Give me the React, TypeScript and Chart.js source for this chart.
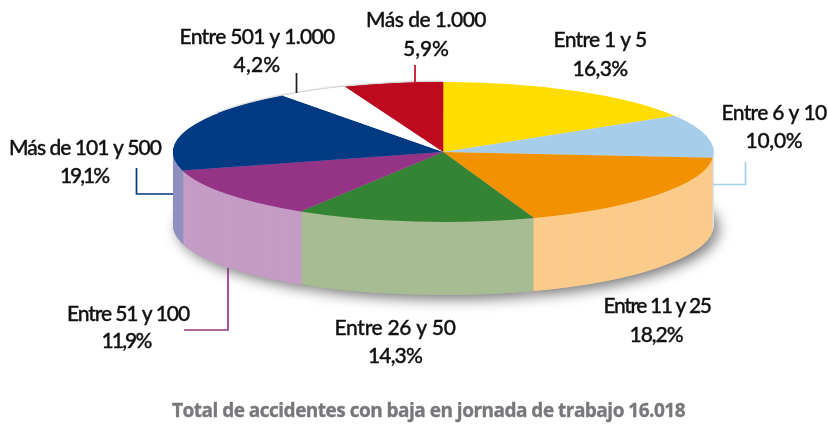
import React, { useEffect, useRef } from "react";
import { Chart, registerables } from "chart.js";

Chart.register(...registerables);

const categories = ["Entre 1 y 5", "Entre 6 y 10", "Entre 11 y 25", "Entre 26 y 50", "Entre 51 y 100", "Más de 101 y 500", "Entre 501 y 1.000", "Más de 1.000"];
const shares = [16.3, 10.0, 18.2, 14.3, 11.9, 19.1, 4.2, 5.9];
const topColors = ["#FFDD00", "#A6CEEA", "#F39200", "#358435", "#953486", "#003A82", "#FFFFFF", "#BE0A1E"];
const sideColors = ["#FFEE88", "#D3E7F5", "#FBCB8B", "#A8BC93", "#C49CC5", "#8F90BF", "#FFFFFF", "#E08A90"];
const totalLabel = "Total de accidentes con baja en jornada de trabajo 16.018";

// label anchors: centre x, first baseline, second baseline, second-line centre x, line widths
const labelLayout = [
  [600, 47, 76, 600, 93, 55],
  [774, 120, 148, 774, 105, 57],
  [657, 313, 342, 656, 107, 53],
  [395, 335, 363, 395, 121, 54],
  [128, 321, 348, 126, 122, 49],
  [85, 155, 183, 84, 152, 48],
  [257, 44, 72, 257, 155, 47],
  [426, 27, 56, 426, 120, 46],
];
// leader lines, one polyline for each label
const leaders: { color: string; points: number[][] }[] = [
  { color: "#BE0A1E", points: [[415, 65], [415, 82]] },
  { color: "#1D1D1B", points: [[296.5, 73], [296.5, 93]] },
  { color: "#003A82", points: [[136.5, 168], [136.5, 194], [173, 194]] },
  { color: "#A6CEEA", points: [[745.5, 162], [745.5, 184.5], [713, 184.5]] },
  { color: "#953486", points: [[228, 268], [228, 330], [184, 330]] },
];

const CX = 443.3;
const CY = 152;
const RX = 270.5;
const RY = 70;
const DEPTH = 73;

const pie3d = {
  id: "pie3d",
  beforeDatasetsDraw(chart: any) {
    const ctx = chart.ctx;
    const arcs = chart.getDatasetMeta(0).data;
    const first = arcs[0];
    const r = first.outerRadius;
    const paint = (dy: number, colors: string[] | null) => {
      ctx.save();
      ctx.translate(CX, CY + dy);
      ctx.scale(RX / r, RY / r);
      ctx.translate(-first.x, -first.y);
      arcs.forEach((arc: any, i: number) => {
        const saved = arc.options;
        if (colors) {
          const o = Object.create(saved);
          o.backgroundColor = colors[i];
          arc.options = o;
        }
        arc.draw(ctx);
        arc.options = saved;
      });
      ctx.restore();
    };
    // soft drop shadow below the solid
    ctx.save();
    ctx.shadowColor = "rgba(0,0,0,0.55)";
    ctx.shadowBlur = 14;
    ctx.shadowOffsetX = 5;
    ctx.shadowOffsetY = 4;
    paint(DEPTH, sideColors);
    ctx.restore();
    for (let dy = DEPTH; dy >= 1; dy--) paint(dy, sideColors);
    // faint edge behind the white slice
    ctx.save();
    ctx.shadowColor = "rgba(0,0,0,0.25)";
    ctx.shadowBlur = 2;
    ctx.shadowOffsetY = -1;
    ctx.beginPath();
    ctx.rect(CX - RX, CY - RY - 4, RX, RY * 0.5);
    ctx.clip();
    paint(0, null);
    ctx.restore();
    paint(0, null);
    return false;
  },
  afterDraw(chart: any) {
    const ctx = chart.ctx;
    ctx.save();
    leaders.forEach((l) => {
      ctx.beginPath();
      l.points.forEach((p, i) => (i ? ctx.lineTo(p[0], p[1]) : ctx.moveTo(p[0], p[1])));
      ctx.strokeStyle = l.color;
      ctx.lineWidth = 1.7;
      ctx.stroke();
    });
    ctx.textAlign = "center";
    ctx.textBaseline = "alphabetic";
    ctx.fillStyle = "#111111";
    ctx.strokeStyle = "#111111";
    ctx.lineWidth = 0.35;
    ctx.lineJoin = "round";
    ctx.font = '500 21px "Lato", sans-serif';
    const fitted = (text: string, x: number, y: number, width: number) => {
      ctx.letterSpacing = "0px";
      const spacing = (width - ctx.measureText(text).width) / text.length;
      ctx.letterSpacing = spacing + "px";
      ctx.fillText(text, x, y);
      ctx.strokeText(text, x, y);
    };
    categories.forEach((c, i) => {
      const [x, y1, y2, x2, w1, w2] = labelLayout[i];
      fitted(c, x, y1, w1);
      fitted(shares[i].toFixed(1).replace(".", ",") + "%", x2, y2, w2);
    });
    ctx.fillStyle = "#77787B";
    ctx.strokeStyle = "#77787B";
    ctx.font = '700 19px "Open Sans", sans-serif';
    fitted(totalLabel, 428.5, 417, 513);
    ctx.restore();
  },
};

export default function App() {
  const ref = useRef<HTMLCanvasElement>(null);
  useEffect(() => {
    const chart = new Chart(ref.current as HTMLCanvasElement, {
      type: "pie",
      data: {
        labels: categories,
        datasets: [{ data: shares, backgroundColor: topColors, borderWidth: 0 }],
      },
      options: {
        responsive: false,
        animation: false,
        plugins: { legend: { display: false }, tooltip: { enabled: false } },
      },
      plugins: [pie3d],
    } as any);
    return () => chart.destroy();
  }, []);
  return (
    <div style={{ position: "absolute", left: 0, top: 0, background: "#fff" }}>
      <canvas ref={ref} width={828} height={425} style={{ display: "block" }} />
    </div>
  );
}
